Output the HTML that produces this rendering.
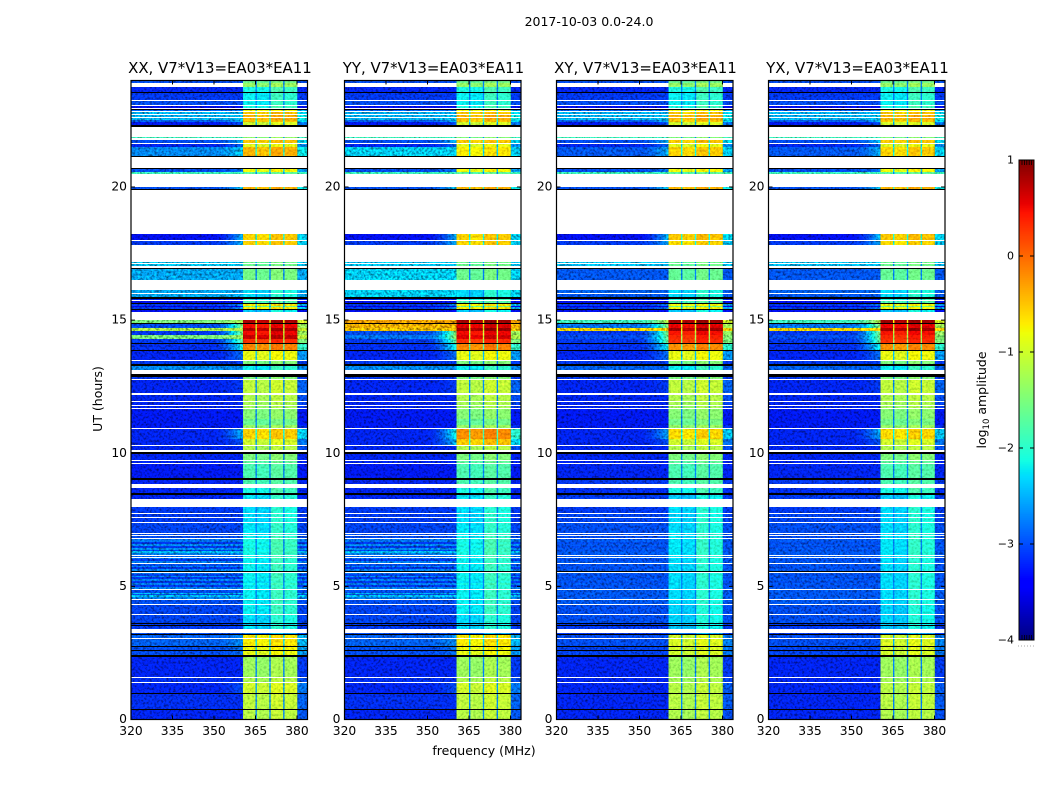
<!DOCTYPE html>
<html lang="en">
<head>
<meta charset="utf-8">
<title>2017-10-03 0.0-24.0</title>
<style>
html,body{margin:0;padding:0;background:#fff;width:1050px;height:800px;overflow:hidden}
svg{display:block}
text{font-family:"DejaVu Sans","Liberation Sans",sans-serif;fill:#000}
</style>
</head>
<body>
<svg id="figure" xmlns="http://www.w3.org/2000/svg" width="1050" height="800" viewBox="0 0 1050 800">
  <defs>
    <filter id="speckle" filterUnits="userSpaceOnUse" x="0" y="0" width="1050" height="800" color-interpolation-filters="sRGB">
      <feTurbulence type="fractalNoise" baseFrequency="0.42" numOctaves="2" seed="7" result="n"/>
      <feColorMatrix in="n" type="matrix" values="1 0 0 0 0  1 0 0 0 0  1 0 0 0 0  0 0 0 0 1" result="g"/>
      <feComposite in="SourceGraphic" in2="g" operator="arithmetic" k1="1.4" k2="0.25" k3="0" k4="0"/>
    </filter>
    <filter id="speckle-soft" filterUnits="userSpaceOnUse" x="0" y="0" width="1050" height="800" color-interpolation-filters="sRGB">
      <feTurbulence type="fractalNoise" baseFrequency="0.42" numOctaves="2" seed="11" result="n"/>
      <feColorMatrix in="n" type="matrix" values="1 0 0 0 0  1 0 0 0 0  1 0 0 0 0  0 0 0 0 1" result="g"/>
      <feComposite in="SourceGraphic" in2="g" operator="arithmetic" k1="0.6" k2="0.7" k3="0" k4="0"/>
    </filter>
  </defs>
  <text x="589" y="26" font-size="12.5" text-anchor="middle">2017-10-03 0.0-24.0</text>
  <text x="484" y="755" font-size="12.5" text-anchor="middle">frequency (MHz)</text>
  <text x="0" y="0" font-size="12.5" text-anchor="middle" transform="translate(102,399) rotate(-90)">UT (hours)</text>
  <text x="0" y="0" font-size="12.5" text-anchor="middle" transform="translate(986,400) rotate(-90)">log<tspan font-size="8.5" dy="3">10</tspan><tspan dy="-3"> amplitude</tspan></text>
  <g id="panels"></g>
  <g id="colorbar"></g>
</svg>
<script>
// Panels and axis ticks
const panelTitles = ['XX, V7*V13=EA03*EA11', 'YY, V7*V13=EA03*EA11', 'XY, V7*V13=EA03*EA11', 'YX, V7*V13=EA03*EA11'];
const panelNames = ['xx', 'yy', 'xy', 'yx'];
const freqTicks = [320, 335, 350, 365, 380];
const hourTicks = [0, 5, 10, 15, 20];
const colorbarTicks = [1, 0, -1, -2, -3, -4];

// Receiver sub-bands (MHz) and their relative level in log10 amplitude
const subbandStarts = [360.5, 365.5, 370.5, 375.5];
const subbandEnds = [365, 370, 375, 380];
const subbandOffsets = [0, -0.06, 0.08, 0.03];
const faintSubbandOffsets = [-0.2, -0.25, 0.1, 0];

const W = null; // flagged (blank) row
const K = -9;   // below colour range, drawn black

// [start hour, parallel background, parallel in-band, cross background, cross in-band]
const rows = [
[0.00,-3.2,-1.15,-3.2,-1.2],[0.36,K,K,K,K],[0.40,-3.15,-1.1,-3.2,-1.15],[0.96,K,K,K,K],
[1.00,-3.2,-1.0,-3.2,-1.15],[1.36,W,W,W,W],[1.40,-3.15,-1.2,-3.2,-1.25],[1.57,W,W,W,W],
[1.61,-3.2,-1.3,-3.2,-1.3],[2.36,K,K,K,K],[2.44,-3.0,-0.85,-3.05,-1.0],[2.57,K,K,K,K],
[2.61,-3.0,-0.8,-3.05,-1.0],[2.73,K,K,K,K],[2.77,-2.9,-0.7,-3.0,-0.95],[3.02,W,W,W,W],
[3.06,-2.9,-0.7,-3.0,-1.0],[3.17,K,K,K,K],[3.21,-3.0,-2.6,-3.1,-2.6],[3.24,W,W,W,W],
[3.41,-3.1,-2.1,-3.1,-2.2],[3.51,K,K,K,K],[3.55,-3.1,-2.2,-3.1,-2.2],[3.57,K,K,K,K],
[3.64,-3.05,-2.1,-3.0,-2.15],[3.91,W,W,W,W],[3.95,-3.05,-2.0,-3.0,-2.15],[4.30,W,W,W,W],
[4.34,-3.0,-2.0,-2.95,-2.1],[4.49,W,W,W,W],[4.53,-2.75,-2.0,-2.95,-2.1],[4.60,-2.45,-2.0,-2.95,-2.1],
[4.66,-3.0,-2.0,-2.95,-2.1],[4.70,-2.5,-2.0,-2.95,-2.1],[4.76,-3.0,-2.0,-2.95,-2.1],[4.85,K,K,K,K],
[4.88,W,W,W,W],[4.92,-2.75,-2.0,-2.95,-2.1],[4.99,-3.1,-2.05,-3.0,-2.1],[5.06,-2.75,-1.95,-2.95,-2.1],
[5.13,-3.1,-2.05,-3.0,-2.1],[5.20,-2.75,-2.0,-2.95,-2.1],[5.27,-3.1,-2.0,-3.0,-2.1],[5.34,-2.7,-1.95,-2.95,-2.1],
[5.40,-3.05,-2.0,-3.0,-2.1],[5.46,-2.8,-2.0,-2.95,-2.1],[5.49,W,W,W,W],[5.53,K,K,K,K],
[5.57,-2.75,-2.0,-2.95,-2.1],[5.64,-3.1,-2.0,-3.0,-2.1],[5.71,-2.75,-1.95,-2.95,-2.1],[5.78,-3.0,-2.0,-3.0,-2.1],
[5.83,W,W,W,W],[5.87,-2.75,-2.0,-2.95,-2.1],[5.94,-3.1,-2.0,-3.0,-2.1],[6.01,-2.8,-1.95,-2.95,-2.1],
[6.08,W,W,W,W],[6.11,-2.9,-1.95,-2.95,-2.05],[6.14,W,W,W,W],[6.18,-2.75,-1.95,-2.95,-2.05],
[6.25,-2.45,-1.9,-2.95,-2.05],[6.31,-3.05,-1.95,-3.0,-2.05],[6.38,-2.7,-1.9,-2.95,-2.05],[6.45,-3.1,-1.95,-3.0,-2.05],
[6.52,-2.7,-1.9,-2.95,-2.05],[6.59,-3.1,-1.95,-3.0,-2.05],[6.66,-2.8,-1.9,-2.95,-2.05],[6.77,W,W,W,W],
[6.81,-3.0,-2.0,-3.0,-2.05],[6.89,W,W,W,W],[6.93,-3.0,-2.0,-3.0,-2.05],[6.97,W,W,W,W],
[7.00,-3.05,-2.05,-3.0,-2.1],[7.39,W,W,W,W],[7.43,-3.1,-2.1,-3.05,-2.1],[7.58,W,W,W,W],
[7.62,-3.1,-2.1,-3.05,-2.15],[7.70,W,W,W,W],[7.74,-3.1,-2.1,-3.1,-2.1],[7.98,W,W,W,W],
[8.27,-3.2,-2.05,-3.1,-2.2],[8.43,K,K,K,K],[8.51,-3.2,-1.9,-3.15,-1.9],[8.69,W,W,W,W],
[8.86,-3.2,-1.8,-3.1,-1.8],[8.99,K,K,K,K],[9.06,-3.25,-1.8,-3.2,-1.8],[9.58,W,W,W,W],
[9.62,-3.2,-1.7,-3.2,-1.7],[9.71,W,W,W,W],[9.75,-3.2,-1.5,-3.2,-1.5],[9.97,K,K,K,K],
[10.05,W,W,W,W],[10.12,-3.2,-1.2,-3.2,-1.2],[10.27,W,W,W,W],[10.31,-3.2,-1.0,-3.2,-1.0],
[10.55,-3.2,-0.55,-3.2,-0.6],[10.90,W,W,W,W],[10.94,-3.25,-1.35,-3.25,-1.35],[11.05,-3.25,-1.6,-3.25,-1.55],
[11.30,-3.25,-1.45,-3.25,-1.45],[11.67,W,W,W,W],[11.71,-3.2,-1.3,-3.2,-1.3],[11.76,W,W,W,W],
[11.80,-3.2,-1.25,-3.2,-1.25],[11.93,W,W,W,W],[11.97,-3.2,-1.2,-3.2,-1.2],[12.20,W,W,W,W],
[12.27,-3.2,-1.1,-3.2,-1.1],[12.76,W,W,W,W],[12.80,-3.1,-1.5,-3.1,-1.5],[12.85,K,K,K,K],
[12.98,W,W,W,W],[13.13,-2.7,-2.0,-2.9,-2.0],[13.28,K,K,K,K],[13.35,-3.1,-1.5,-3.1,-1.5],
[13.46,W,W,W,W],[13.50,-3.2,-0.85,-3.2,-0.85],[13.84,K,K,K,K],[13.88,-3.15,-0.15,-3.15,-0.2],
[14.10,K,K,K,K],[14.14,-3.1,0.3,-3.1,0.3],[14.29,-1.5,0.7,-3.0,0.35],[14.44,-3.1,0.5,-3.1,0.45],
[14.59,-1.2,0.8,-0.6,0.85],[14.72,-3.0,0.5,-2.8,0.55],[14.85,K,K,K,K],[14.89,-1.5,0.8,-1.9,0.85],
[15.00,W,W,W,W],[15.30,-3.3,-2.2,-3.3,-2.2],[15.38,K,K,K,K],[15.42,-3.1,-0.7,-3.1,-0.8],
[15.49,-3.4,-1.6,-3.4,-1.6],[15.53,-3.1,-0.7,-3.1,-0.8],[15.60,K,K,K,K],[15.64,-3.3,-1.8,-3.3,-1.8],
[15.72,W,W,W,W],[15.75,-3.2,-1.9,-3.2,-1.9],[15.79,K,K,K,K],[15.85,-2.55,-2.1,-2.95,-2.1],
[15.98,W,W,W,W],[16.02,-2.55,-2.1,-2.9,-2.1],[16.13,W,W,W,W],[16.51,-2.55,-1.55,-2.95,-1.65],
[16.92,K,K,K,K],[16.96,W,W,W,W],[17.03,-2.4,-1.6,-2.45,-1.6],[17.09,W,W,W,W],
[17.13,-2.4,-1.6,-2.4,-1.6],[17.18,W,W,W,W],[17.82,-3.1,-0.55,-3.1,-0.6],[17.97,W,W,W,W],
[18.01,-3.3,-0.55,-3.3,-0.5],[18.24,W,W,W,W],[19.89,K,K,K,K],[19.93,-3.0,-0.4,-3.0,-0.4],
[20.00,W,W,W,W],[20.49,-1.9,-1.7,-1.9,-1.7],[20.58,-3.0,-0.8,-3.0,-0.8],[20.66,K,K,K,K],
[20.71,W,W,W,W],[21.13,K,K,K,K],[21.17,-2.7,-0.4,-2.95,-0.55],[21.50,-3.2,-0.9,-3.2,-0.9],
[21.62,W,W,W,W],[21.66,-3.0,-0.5,-3.0,-0.5],[21.76,W,W,W,W],[21.83,-1.9,-1.5,-1.9,-1.5],
[21.87,W,W,W,W],[22.27,K,K,K,K],[22.33,-3.25,-1.0,-3.25,-1.0],[22.44,-2.9,-0.5,-2.9,-0.5],
[22.50,W,W,W,W],[22.53,-2.5,-0.4,-2.5,-0.4],[22.60,W,W,W,W],[22.63,-2.5,-0.4,-2.5,-0.4],
[22.70,W,W,W,W],[22.73,-2.5,-0.5,-2.5,-0.5],[22.80,W,W,W,W],[22.84,-2.9,-0.8,-2.9,-0.8],[22.89,K,K,K,K],
[22.93,W,W,W,W],[22.96,-3.3,-1.9,-3.3,-1.9],[23.04,W,W,W,W],[23.08,-3.0,-2.0,-3.0,-2.0],
[23.23,W,W,W,W],[23.27,-3.1,-2.0,-3.1,-2.0],[23.53,K,K,K,K],[23.57,-3.2,-1.9,-3.2,-1.9],
[23.76,W,-1.35,W,-1.35],[23.91,-3.0,-1.6,-3.0,-1.6]
];

// [panel index, first hour, last hour, background, in-band] for rows that differ by polarisation
const overrides = [
[1,14.89,15,-0.3,0.85],[1,14.72,14.85,-0.4,0.6],[1,14.59,14.72,-0.5,0.85],[1,14.44,14.59,-3.0,0.5],
[1,14.29,14.44,-2.8,0.6],[1,21.17,21.5,-2.35,-0.7],[1,16.51,16.92,-2.35,-1.6],[1,15.85,16.13,-2.35,-2.1],
[1,10.55,10.9,-3.2,-0.2],[1,10.31,10.55,-3.2,-0.5],[0,21.83,21.87,-1.9,-1.4]
];

const ns = 'http://www.w3.org/2000/svg';
const panelLefts = [131, 344.5, 556.5, 768.5];
const panelWidth = 176.5;
const plotTop = 80.5, plotBottom = 719.5;
const freqMin = 320, freqMax = 383.8, hourMax = 24;

function xScale(left, f) { return left + (f - freqMin) / (freqMax - freqMin) * panelWidth; }
function yScale(h) { return plotBottom - h / hourMax * (plotBottom - plotTop); }

function ramp(t, pts) {
  for (let i = 1; i < pts.length; i++) {
    if (t <= pts[i][0]) {
      const a = pts[i - 1], b = pts[i];
      return a[1] + (b[1] - a[1]) * (t - a[0]) / (b[0] - a[0]);
    }
  }
  return pts[pts.length - 1][1];
}
const jetR = [[0,0],[0.35,0],[0.66,1],[0.89,1],[1,0.5]];
const jetG = [[0,0],[0.125,0],[0.375,1],[0.64,1],[0.91,0],[1,0]];
const jetB = [[0,0.5],[0.11,1],[0.34,1],[0.65,0],[1,0]];
function colour(v) {
  if (v < -4) return '#000';
  const t = Math.min(1, (v + 4) / 5);
  const c = x => Math.round(ramp(t, x) * 255);
  return 'rgb(' + c(jetR) + ',' + c(jetG) + ',' + c(jetB) + ')';
}
function mk(tag, attrs, parent) {
  const el = document.createElementNS(ns, tag);
  for (const k in attrs) el.setAttribute(k, attrs[k]);
  parent.appendChild(el);
  return el;
}
function cell(g, left, f0, f1, y0, y1, v) {
  const x0 = xScale(left, f0), x1 = xScale(left, f1);
  const el = mk('rect', {x: x0.toFixed(2), y: y1, width: (x1 - x0 + 0.3).toFixed(2), height: y0 - y1, fill: colour(v)}, g);
  
  
}
function rowValues(p, r) {
  let bg = p < 2 ? r[1] : r[3];
  let band = p < 2 ? r[2] : r[4];
  overrides.forEach(o => {
    if (o[0] === p && r[0] >= o[1] && r[0] < o[2]) { bg = o[3]; band = o[4]; }
  });
  return [bg, band];
}
function drawRow(gBg, gBand, p, left, i) {
  const r = rows[i];
  const h1 = i + 1 < rows.length ? rows[i + 1][0] : hourMax;
  const y0 = Math.round(yScale(r[0])), y1 = Math.round(yScale(h1));
  if (y0 <= y1) return;
  const vals = rowValues(p, r);
  const bg = vals[0], band = vals[1];
  if (bg !== null) {
    const target = band === null ? bg : Math.max(bg, band - 2.0);
    if (target - bg < 0.1) {
      cell(gBg, left, freqMin, subbandStarts[0], y0, y1, bg);
    } else {
      cell(gBg, left, freqMin, 350, y0, y1, bg);
      for (let s = 0; s < 10; s++) {
        const frac = (s + 1) / 10;
        cell(gBg, left, 350 + s * 1.05, 350 + (s + 1) * 1.05, y0, y1, bg + (target - bg) * frac * frac);
      }
    }
    cell(gBg, left, 380, freqMax, y0, y1, band === null ? bg : Math.max(bg, band - 1.8));
  }
  if (band !== null) {
    const offs = band < -1.8 ? faintSubbandOffsets : subbandOffsets;
    subbandStarts.forEach((s, k) => {
      cell(gBand, left, s, subbandEnds[k], y0, y1, band <= K ? K : band + offs[k]);
      if (k < 3) cell(gBand, left, subbandEnds[k], subbandStarts[k + 1], y0, y1, band <= K ? K : Math.max(band - 1.6, -2.75));
    });
  }
}

const panelsRoot = document.getElementById('panels');
panelTitles.forEach((title, p) => {
  const left = panelLefts[p];
  const right = left + panelWidth;
  const g = mk('g', {}, panelsRoot);
  
  

  const heat = mk('g', {filter: 'url(#speckle)'}, g);
  
  
  const heatBand = mk('g', {filter: 'url(#speckle-soft)'}, g);
  
  
  rows.forEach((r, i) => drawRow(heat, heatBand, p, left, i));

  const frame = mk('rect', {x: left, y: plotTop, width: panelWidth, height: plotBottom - plotTop, fill: 'none', stroke: '#000', 'stroke-width': 1.2}, g);
  
  

  const t = mk('text', {x: left + panelWidth / 2 + 0.7, y: 73, 'font-size': 14.95, 'text-anchor': 'middle'}, g);
  
  
  t.textContent = title;

  freqTicks.forEach(f => {
    const x = xScale(left, f);
    const tick = mk('path', {d: 'M' + x + ' ' + plotBottom + 'v-4M' + x + ' ' + plotTop + 'v4', stroke: '#000', 'stroke-width': 1, fill: 'none'}, g);
    
    
    const lab = mk('text', {x: x, y: 735, 'font-size': 12.3, 'text-anchor': 'middle'}, g);
    
    
    lab.textContent = f;
  });
  hourTicks.forEach(h => {
    const y = yScale(h);
    const tick = mk('path', {d: 'M' + left + ' ' + y + 'h4M' + right + ' ' + y + 'h-4', stroke: '#000', 'stroke-width': 1, fill: 'none'}, g);
    
    
    const lab = mk('text', {x: left - 4, y: y + 3.5, 'font-size': 12.3, 'text-anchor': 'end'}, g);
    
    
    lab.textContent = h;
  });
});

// Colour bar
const cbLeft = 1019, cbRight = 1034, cbTop = 160, cbBottom = 640;
function cbScale(v) { return cbBottom - (v + 4) / 5 * (cbBottom - cbTop); }
const cb = document.getElementById('colorbar');
for (let i = 0; i < 240; i++) {
  const v0 = -4 + i / 240 * 5, v1 = -4 + (i + 1) / 240 * 5;
  const seg = mk('rect', {x: cbLeft, y: cbScale(v1), width: cbRight - cbLeft, height: cbScale(v0) - cbScale(v1) + 0.3, fill: colour((v0 + v1) / 2)}, cb);
  
  
}
const cbFrame = mk('rect', {x: cbLeft, y: cbTop, width: cbRight - cbLeft, height: cbBottom - cbTop, fill: 'none', stroke: '#000', 'stroke-width': 1}, cb);


colorbarTicks.forEach(v => {
  const y = cbScale(v);
  const tick = mk('path', {d: 'M' + cbLeft + ' ' + y + 'h4M' + cbRight + ' ' + y + 'h-4', stroke: '#000', 'stroke-width': 1, fill: 'none'}, cb);
  
  
  const lab = mk('text', {x: 1014, y: y + 3.5, 'font-size': 11, 'text-anchor': 'end'}, cb);
  
  
  lab.textContent = v < 0 ? '\u2212' + (-v) : String(v);
});
[0, 1, 2, 3, 4].forEach(k => {
  const xp = cbLeft + 3 + k * 2.4;
  const m = mk('path', {d: 'M' + xp + ' ' + cbTop + 'v5M' + xp + ' ' + cbBottom + 'v-5', stroke: '#000', 'stroke-width': 0.8, fill: 'none'}, cb);
  
  
});
[0, 1, 2, 3, 4, 5].forEach(k => {
  const d = mk('rect', {x: 1018 + k * 3, y: 645.5, width: 1, height: 1, fill: '#aaa'}, cb);
  
  
});
</script>
</body>
</html>
